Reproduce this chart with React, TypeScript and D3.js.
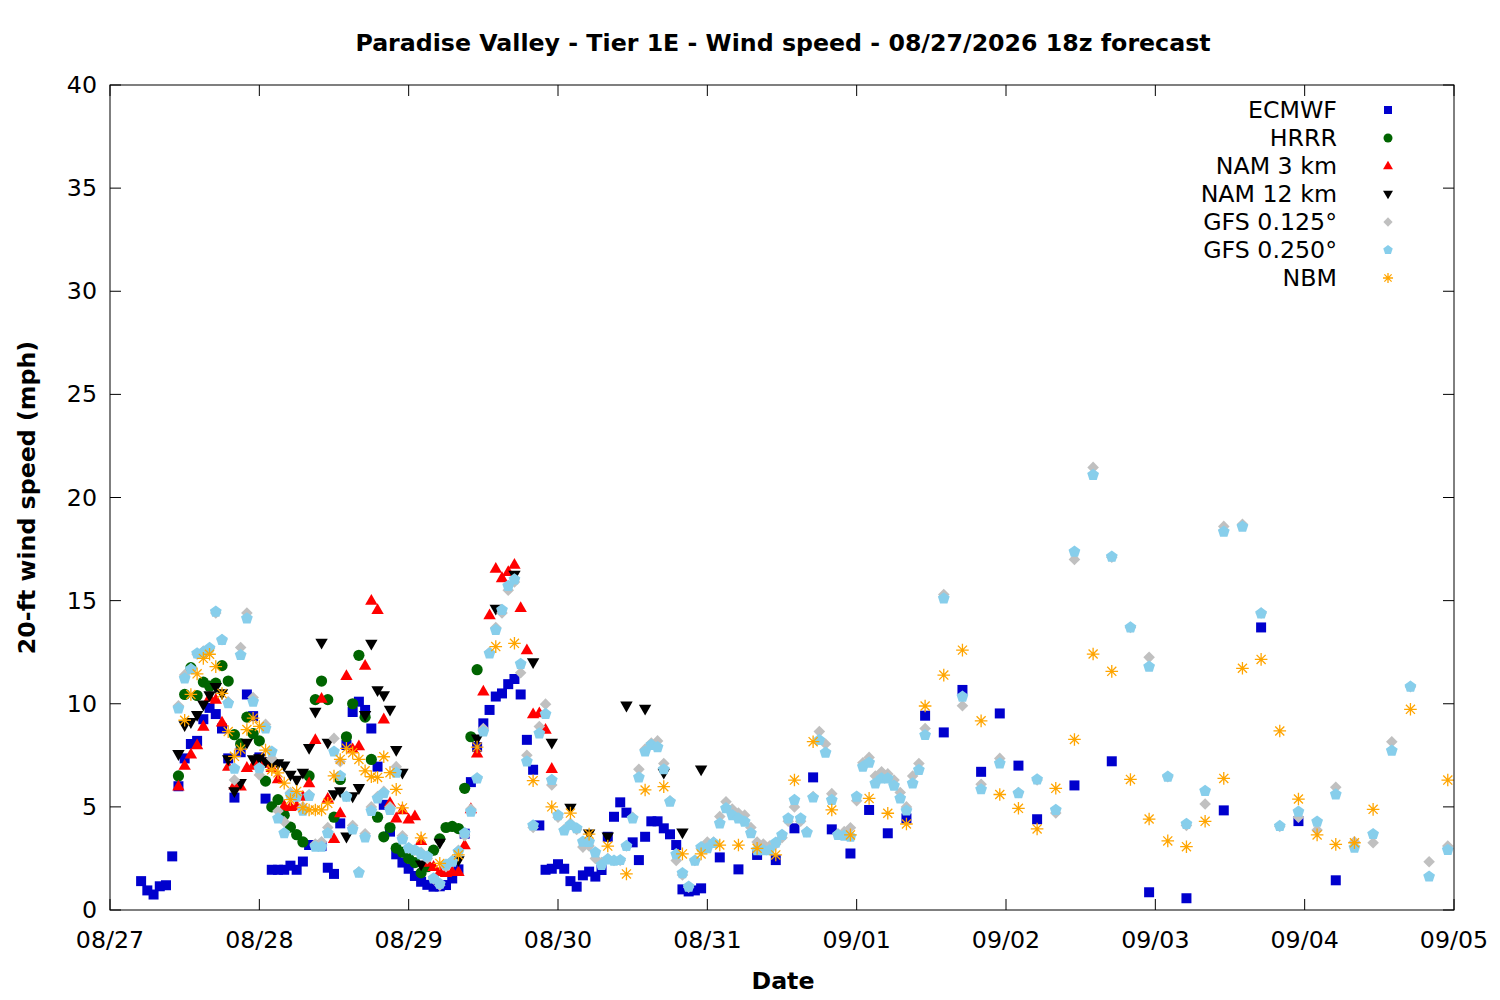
import React from "react";
import * as d3 from "d3";

// ---------- data (hours after 08/27 00:00 local, wind speed in mph) ----------
const ecmwfHours = [5,6,7,8,9,10,11,12,13,14,15,16,17,18,19,20,21,22,23,24,25,26,27,28,29,30,31,32,33,34,35,36,37,38,39,40,41,42,43,44,45,46,47,48,49,50,51,52,53,54,55,56,57,58,59,60,61,62,63,64,65,66,67,68,69,70,71,72,73,74,75,76,77,78,79,80,81,82,83,84,85,86,87,88,89,90,91,92,93,94,95,98,101,104,107,110,113,116,119,122,125,128,131,134,137,140,143,146,149,155,161,167,173,179,185,191,197];
const ecmwfSpeeds = [1.4,0.95,0.75,1.15,1.2,2.6,6.0,7.35,8.05,8.2,9.25,9.8,9.5,8.8,7.35,5.45,7.65,10.45,9.4,7.4,5.4,1.95,1.95,1.95,2.15,1.95,2.35,3.15,3.15,3.1,2.05,1.75,4.2,8.0,9.6,10.1,9.7,8.8,6.95,5.1,3.8,2.7,2.3,2.0,1.65,1.37,1.22,1.13,1.15,1.21,1.53,1.97,3.7,6.2,7.9,9.05,9.7,10.35,10.5,10.95,11.2,10.45,8.25,6.8,4.1,1.95,2.0,2.22,2.0,1.4,1.13,1.68,1.86,1.62,1.94,3.55,4.52,5.22,4.72,3.28,2.42,3.55,4.3,4.3,3.96,3.67,3.15,1.0,0.9,0.95,1.05,2.55,1.97,2.67,2.42,3.96,6.43,3.91,2.74,4.85,3.72,4.44,9.42,8.61,10.67,6.7,9.53,7.0,4.4,6.04,7.21,0.86,0.57,4.83,13.7,4.31,1.44];

const hrrrHours = [11,12,13,14,15,16,17,18,19,20,21,22,23,24,25,26,27,28,29,30,31,32,33,34,35,36,37,38,39,40,41,42,43,44,45,46,47,48,49,50,51,52,53,54,55,56,57,58,59];
const hrrrSpeeds = [6.5,10.45,11.75,10.4,11.05,10.85,11.0,11.85,11.1,8.5,8.05,9.35,8.55,8.2,6.25,5.0,5.35,4.6,4.02,3.65,3.3,6.5,10.2,11.1,10.2,4.5,6.33,8.4,10.0,12.35,9.35,7.3,4.5,3.55,4.0,3.0,2.8,2.5,2.3,1.8,2.1,2.9,3.45,4.0,4.05,3.95,5.9,8.4,11.65];

const nam3Hours = [11,12,13,14,15,16,17,18,19,20,21,22,23,24,25,26,27,28,29,30,31,32,33,34,35,36,37,38,39,40,41,42,43,44,45,46,47,48,49,50,51,52,53,54,55,56,57,58,59,60,61,62,63,64,65,66,67,68,69,70,71];
const nam3Speeds = [6.0,7.0,7.55,8.0,8.9,10.3,10.2,9.1,6.95,6.05,6.0,6.9,7.0,7.25,7.1,6.9,6.35,5.05,5.0,5.05,5.5,6.15,8.25,10.25,5.4,3.45,4.7,11.35,7.8,7.95,11.85,15.0,14.55,9.25,5.2,4.45,4.85,4.4,4.55,3.35,2.3,2.1,1.85,1.8,1.85,1.85,3.15,4.9,7.6,10.6,14.3,16.55,16.1,16.4,16.75,14.65,12.6,9.5,9.55,8.75,6.85];

const nam12Hours = [11,12,13,14,15,16,17,18,19,20,21,22,23,24,25,26,27,28,29,30,31,32,33,34,35,36,37,38,39,40,41,42,43,44,45,46,47,50,53,56,59,62,65,68,71,74,77,80,83,86,89,92,95];
const nam12Speeds = [7.55,8.95,9.1,9.45,9.95,10.4,10.8,10.5,7.3,5.75,6.15,8.1,7.3,7.35,7.2,7.1,7.1,7.0,6.55,6.3,6.65,7.85,9.6,12.95,8.1,5.6,5.75,3.55,5.5,5.9,9.45,12.9,10.65,10.4,9.7,7.75,6.65,2.2,3.25,2.4,8.3,14.6,16.25,12.0,8.1,4.95,3.7,3.55,9.9,9.75,6.65,3.75,6.8];

const gfsHours = [11,12,13,14,15,16,17,18,19,20,21,22,23,24,25,26,27,28,29,30,31,32,33,34,35,36,37,38,39,40,41,42,43,44,45,46,47,48,49,50,51,52,53,54,55,56,57,58,59,60,61,62,63,64,65,66,67,68,69,70,71,72,73,74,75,76,77,78,79,80,81,82,83,84,85,86,87,88,89,90,91,92,93,94,95,96,97,98,99,100,101,102,103,104,105,106,107,108,109,110,111,112,113,114,115,116,117,118,119,120,121,122,123,124,125,126,127,128,129,130,131,134,137,140,143,146,149,152,155,158,161,164,167,170,173,176,179,182,185,188,191,194,197,200,203,206,209,212,215];
const gfs0125Speeds = [9.9,11.4,11.7,12.4,12.55,12.7,14.4,13.1,10.1,6.3,12.73,14.4,10.3,6.55,9.0,7.35,4.8,4.28,5.7,5.6,5.0,5.6,3.2,3.31,4.0,8.32,7.19,5.5,4.1,1.85,3.7,5.0,5.5,5.75,5.0,6.95,3.6,3.0,2.9,2.8,2.5,1.5,1.2,2.1,2.4,2.9,3.6,4.9,6.4,8.8,12.5,13.7,14.4,15.5,15.9,11.5,7.5,4.0,8.9,9.98,6.06,4.5,3.9,4.2,3.9,3.05,3.1,2.5,2.3,2.5,2.4,2.4,3.1,4.5,6.82,7.8,8.1,8.2,7.1,5.3,2.4,1.7,1.1,2.4,3.0,3.3,3.3,4.53,5.25,4.9,4.7,4.6,4.0,3.3,3.2,3.1,3.2,3.5,4.3,5.0,4.3,3.8,5.5,8.65,8.05,5.64,3.7,3.8,3.99,5.3,7.14,7.4,6.5,6.7,6.6,6.3,5.7,5.0,6.5,7.1,8.8,15.3,9.9,6.1,7.35,5.7,6.3,4.7,17.0,21.46,17.1,13.7,12.25,6.46,4.1,5.14,18.6,18.7,14.4,4.05,4.5,3.88,5.95,3.31,3.26,8.16,10.83,2.34,3.1];
const gfs0250Speeds = [9.77,11.23,11.68,12.44,12.5,12.7,14.46,13.09,10.02,6.85,12.36,14.14,10.1,6.87,8.8,7.68,4.44,3.72,5.58,5.49,4.81,5.53,3.07,3.07,3.72,7.68,6.5,5.49,3.91,1.81,3.52,4.8,5.41,5.66,4.85,6.66,3.42,3.0,2.9,2.7,2.6,1.53,1.27,2.2,2.34,2.83,3.72,4.77,6.38,8.65,12.44,13.58,14.55,15.71,16.03,11.93,7.2,4.1,8.56,9.5,6.3,4.6,3.85,4.12,3.96,3.31,3.3,2.79,2.18,2.45,2.39,2.42,3.1,4.44,6.43,7.68,8.0,7.89,6.82,5.25,2.7,1.78,1.13,2.39,3.04,3.0,3.25,4.2,4.93,4.6,4.44,4.28,3.72,2.9,2.9,2.9,3.26,3.64,4.44,5.33,4.44,3.76,5.45,8.24,7.63,5.33,3.64,3.6,3.55,5.49,6.95,7.14,6.14,6.38,6.38,6.03,5.41,4.82,6.14,6.79,8.48,15.11,10.34,5.85,7.11,5.66,6.33,4.85,17.37,21.09,17.13,13.7,11.8,6.46,4.17,5.77,18.34,18.58,14.38,4.07,4.77,4.28,5.6,3.02,3.68,7.72,10.83,1.62,2.91];

const nbmHours = [12,13,14,15,16,17,18,19,20,21,22,23,24,25,26,27,28,29,30,31,32,33,34,35,36,37,38,39,40,41,42,43,44,45,46,47,50,53,56,59,62,65,68,71,74,77,80,83,86,89,92,95,98,101,104,107,110,113,116,119,122,125,128,131,134,137,140,143,146,149,152,155,158,161,164,167,170,173,176,179,182,185,188,191,194,197,200,203,209,215];
const nbmSpeeds = [9.2,10.45,11.45,12.2,12.4,11.8,10.5,8.65,7.45,7.8,8.75,9.3,8.9,7.75,6.8,6.65,6.15,5.35,5.75,4.96,4.85,4.85,4.85,5.17,6.5,7.3,7.84,7.63,7.3,6.75,6.46,6.43,7.43,6.66,5.85,4.95,3.5,2.26,2.67,7.9,12.77,12.93,6.27,5.0,4.7,3.68,3.1,1.75,5.82,5.98,2.72,2.72,3.15,3.15,2.99,2.67,6.3,8.16,4.85,3.64,5.41,4.69,4.17,9.89,11.39,12.6,9.17,5.6,4.93,3.93,5.9,8.27,12.41,11.57,6.33,4.41,3.35,3.07,4.3,6.38,11.72,12.15,8.68,5.38,3.64,3.18,3.26,4.88,9.73,6.3];

const modelNames = ["ECMWF", "HRRR", "NAM 3 km", "NAM 12 km", "GFS 0.125°", "GFS 0.250°", "NBM"];
const yTickValues = [0, 5, 10, 15, 20, 25, 30, 35, 40];
const titleText = "Paradise Valley - Tier 1E - Wind speed - 08/27/2026 18z forecast";

// ---------- layout ----------
const W = 1500;
const H = 1000;
const PL = 110, PR = 1454, PT = 85, PB = 910;
const FONT = "'DejaVu Sans', sans-serif";
const FS = 23.7;

const startMs = Date.UTC(2026, 7, 27);
const endMs = Date.UTC(2026, 8, 5);
const toDate = (h: number) => new Date(startMs + h * 3600000);

type Shape = "square" | "circle" | "tri" | "itri" | "diamond" | "pent" | "star";

const series: { name: string; hours: number[]; vals: number[]; color: string; shape: Shape }[] = [
  { name: modelNames[0], hours: ecmwfHours, vals: ecmwfSpeeds, color: "#0000cd", shape: "square" },
  { name: modelNames[1], hours: hrrrHours, vals: hrrrSpeeds, color: "#006400", shape: "circle" },
  { name: modelNames[2], hours: nam3Hours, vals: nam3Speeds, color: "#ff0000", shape: "tri" },
  { name: modelNames[3], hours: nam12Hours, vals: nam12Speeds, color: "#000000", shape: "itri" },
  { name: modelNames[4], hours: gfsHours, vals: gfs0125Speeds, color: "#c0c0c0", shape: "diamond" },
  { name: modelNames[5], hours: gfsHours, vals: gfs0250Speeds, color: "#87ceeb", shape: "pent" },
  { name: modelNames[6], hours: nbmHours, vals: nbmSpeeds, color: "#ffa500", shape: "star" },
];

function shapePath(shape: Shape, k: number): string {
  switch (shape) {
    case "square": {
      const s = 5 * k;
      return `M${-s},${-s}H${s}V${s}H${-s}Z`;
    }
    case "circle": {
      const r = 5.6 * k;
      return `M${-r},0A${r},${r} 0 1,0 ${r},0A${r},${r} 0 1,0 ${-r},0Z`;
    }
    case "tri":
      return `M0,${-6.6 * k}L${6.2 * k},${4.2 * k}L${-6.2 * k},${4.2 * k}Z`;
    case "itri":
      return `M0,${6.6 * k}L${6.2 * k},${-4.2 * k}L${-6.2 * k},${-4.2 * k}Z`;
    case "diamond": {
      const r = 5.8 * k;
      return `M0,${-r}L${r},0L0,${r}L${-r},0Z`;
    }
    case "pent": {
      const r = 6.2 * k;
      const pts = d3.range(5).map((i) => {
        const a = -Math.PI / 2 + (i * 2 * Math.PI) / 5;
        return [r * Math.cos(a), r * Math.sin(a)];
      });
      return "M" + pts.map((p) => p[0].toFixed(2) + "," + p[1].toFixed(2)).join("L") + "Z";
    }
    case "star": {
      const r = 6.3 * k;
      const d = r * 0.72;
      return `M${-r},0H${r}M0,${-r}V${r}M${-d},${-d}L${d},${d}M${-d},${d}L${d},${-d}`;
    }
  }
}

function Marker({ shape, color, cx, cy, k }: { shape: Shape; color: string; cx: number; cy: number; k: number }) {
  const d = shapePath(shape, k);
  if (shape === "star") {
    return <path d={d} transform={`translate(${cx},${cy})`} fill="none" stroke={color} strokeWidth={1.3} />;
  }
  return <path d={d} transform={`translate(${cx},${cy})`} fill={color} stroke="none" />;
}

export default function App() {
  const x = d3.scaleUtc().domain([new Date(startMs), new Date(endMs)]).range([PL, PR]);
  const y = d3.scaleLinear().domain([0, 40]).range([PB, PT]);
  const xTicks = x.ticks(d3.utcDay.every(1) as any);
  const fmt = d3.utcFormat("%m/%d");
  const tickLen = 11;

  return (
    <svg
      width={W}
      height={H}
      viewBox={`0 0 ${W} ${H}`}
      style={{ position: "absolute", left: 0, top: 0, background: "#fff" }}
      fontFamily={FONT}
    >
      <rect x={0} y={0} width={W} height={H} fill="#fff" />
      <defs>
        <clipPath id="plotclip">
          <rect x={PL} y={PT} width={PR - PL} height={PB - PT} />
        </clipPath>
      </defs>

      {/* title */}
      <text x={(PL + PR) / 2 + 1} y={43} textAnchor="middle" dominantBaseline="central" fontSize={FS} fontWeight="bold">
        {titleText}
      </text>

      {/* y ticks */}
      {yTickValues.map((v) => (
        <g key={"y" + v}>
          <line x1={PL} x2={PL + tickLen} y1={y(v)} y2={y(v)} stroke="#000" strokeWidth={1} />
          <line x1={PR} x2={PR - tickLen} y1={y(v)} y2={y(v)} stroke="#000" strokeWidth={1} />
          <text x={PL - 13} y={y(v)} textAnchor="end" dominantBaseline="central" fontSize={FS}>
            {v}
          </text>
        </g>
      ))}

      {/* x ticks */}
      {xTicks.map((t) => (
        <g key={"x" + t.getTime()}>
          <line x1={x(t)} x2={x(t)} y1={PB} y2={PB - tickLen} stroke="#000" strokeWidth={1} />
          <line x1={x(t)} x2={x(t)} y1={PT} y2={PT + tickLen} stroke="#000" strokeWidth={1} />
          <text x={x(t)} y={940} textAnchor="middle" dominantBaseline="central" fontSize={FS}>
            {fmt(t)}
          </text>
        </g>
      ))}

      {/* axis labels */}
      <text x={783} y={981} textAnchor="middle" dominantBaseline="central" fontSize={FS} fontWeight="bold">
        Date
      </text>
      <text
        transform={`translate(27,${(PT + PB) / 2}) rotate(-90)`}
        textAnchor="middle"
        dominantBaseline="central"
        fontSize={FS}
        fontWeight="bold"
      >
        20-ft wind speed (mph)
      </text>

      {/* legend */}
      {series.map((s, i) => (
        <g key={"leg" + i}>
          <text x={1337} y={110 + i * 28} textAnchor="end" dominantBaseline="central" fontSize={FS}>
            {s.name}
          </text>
          <Marker shape={s.shape} color={s.color} cx={1388} cy={110 + i * 28} k={0.8} />
        </g>
      ))}

      {/* data */}
      <g clipPath="url(#plotclip)">
        {series.map((s, si) => (
          <g key={"s" + si}>
            {s.hours.map((h, j) => (
              <Marker key={j} shape={s.shape} color={s.color} cx={x(toDate(h))} cy={y(s.vals[j])} k={1} />
            ))}
          </g>
        ))}
      </g>

      {/* border */}
      <rect x={PL} y={PT} width={PR - PL} height={PB - PT} fill="none" stroke="#000" strokeWidth={1} />
    </svg>
  );
}
